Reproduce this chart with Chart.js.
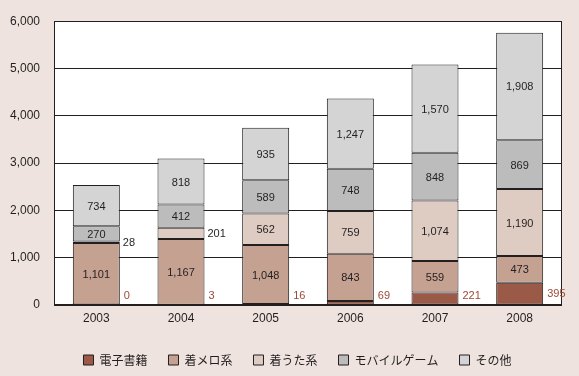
<!DOCTYPE html>
<html>
<head>
<meta charset="utf-8">
<script src="https://cdn.jsdelivr.net/npm/chart.js@4/dist/chart.umd.min.js"></script>
<style>
  html, body { margin: 0; padding: 0; background: #EEE3DE; }
  #wrap { width: 579px; height: 376px; position: relative; }
</style>
</head>
<body>
<div id="wrap"><canvas id="chart"></canvas></div>
<script>
var years = ["2003", "2004", "2005", "2006", "2007", "2008"];
var ebook = [0, 3, 16, 69, 221, 395];
var chakuMelo = [1101, 1167, 1048, 843, 559, 473];
var chakuUta = [28, 201, 562, 759, 1074, 1190];
var mobileGame = [270, 412, 589, 748, 848, 869];
var other = [734, 818, 935, 1247, 1570, 1908];
var yTickLabels = ["0", "1,000", "2,000", "3,000", "4,000", "5,000", "6,000"];

var ink = "#231F20";

function fmt(v) {
  return v.toLocaleString("en-US");
}

// white plot area + frame
var plotFrame = {
  id: "plotFrame",
  beforeDraw: function (chart) {
    var a = chart.chartArea, ctx = chart.ctx;
    ctx.save();
    ctx.fillStyle = "#ffffff";
    ctx.fillRect(a.left, a.top, a.right - a.left, a.bottom - a.top);
    ctx.restore();
  },
  afterDatasetsDraw: function (chart) {
    var a = chart.chartArea, ctx = chart.ctx;
    ctx.save();
    ctx.strokeStyle = ink;
    ctx.lineWidth = 1;
    ctx.strokeRect(Math.round(a.left) + 0.5, Math.round(a.top) + 0.5,
      Math.round(a.right - a.left) - 1, Math.round(a.bottom - a.top) - 1);
    ctx.restore();
  }
};

// nudge the legend row a little right, like the original
var legendShift = {
  id: "legendShift",
  afterLayout: function (chart) {
    if (chart.legend) chart.legend.left += 16;
  }
};

// value labels
var valueLabels = {
  id: "valueLabels",
  afterDatasetsDraw: function (chart) {
    var ctx = chart.ctx;
    ctx.save();
    ctx.font = "11px 'Liberation Sans', Arial, sans-serif";
    ctx.textBaseline = "middle";
    chart.data.datasets.forEach(function (ds, di) {
      var meta = chart.getDatasetMeta(di);
      meta.data.forEach(function (bar, i) {
        var v = ds.data[i];
        var top = Math.min(bar.y, bar.base), bottom = Math.max(bar.y, bar.base);
        var mid = (top + bottom) / 2;
        var h = bottom - top;
        if (di === 0) {
          ctx.fillStyle = "#9B4A36";
          ctx.textAlign = "left";
          ctx.fillText(fmt(v), bar.x + bar.width / 2 + 4, Math.min(mid, bottom - 9));
        } else if (h < 14) {
          ctx.fillStyle = ink;
          ctx.textAlign = "left";
          ctx.fillText(fmt(v), bar.x + bar.width / 2 + 3, mid + 1);
        } else {
          ctx.fillStyle = ink;
          ctx.textAlign = "center";
          ctx.fillText(fmt(v), bar.x, mid + 1);
        }
      });
    });
    ctx.restore();
  }
};

function series(label, data, color) {
  return {
    label: label,
    data: data,
    backgroundColor: color,
    borderColor: ink,
    borderWidth: 1,
    borderSkipped: false,
    barPercentage: 0.555,
    categoryPercentage: 1.0
  };
}

document.addEventListener("DOMContentLoaded", function () {
  var ctx = document.getElementById("chart").getContext("2d");
  new Chart(ctx, {
    type: "bar",
    data: {
      labels: years,
      datasets: [
        series("電子書籍", ebook, "#9B5A48"),
        series("着メロ系", chakuMelo, "#C5A191"),
        series("着うた系", chakuUta, "#DECCC2"),
        series("モバイルゲーム", mobileGame, "#BCBCBC"),
        series("その他", other, "#D4D4D5")
      ]
    },
    options: {
      responsive: true,
      maintainAspectRatio: false,
      animation: false,
      layout: { padding: { left: 0, right: 0, top: 10, bottom: 0 } },
      plugins: {
        tooltip: { enabled: false },
        legend: {
          position: "bottom",
          labels: {
            boxWidth: 10,
            boxHeight: 10,
            padding: 21,
            color: ink,
            font: { family: "'Noto Sans CJK JP', sans-serif", size: 12 }
          }
        }
      },
      scales: {
        x: {
          stacked: true,
          grid: { display: false, drawTicks: false },
          border: { display: false },
          ticks: {
            color: ink,
            padding: 6,
            font: { family: "'Liberation Sans', Arial, sans-serif", size: 12 }
          },
          afterFit: function (s) { s.height = 28; }
        },
        y: {
          stacked: true,
          min: 0,
          // the printed axis runs 1,000 per gridline, but the bars are
          // drawn at 840 per gridline in the source figure
          max: 5040,
          grid: { color: ink, lineWidth: 1, drawTicks: false },
          border: { display: false },
          ticks: {
            stepSize: 840,
            color: ink,
            padding: 14,
            font: { family: "'Liberation Sans', Arial, sans-serif", size: 12 },
            callback: function (v, i) { return yTickLabels[i]; }
          },
          afterFit: function (s) { s.width = 54; }
        },
        yRight: {
          position: "right",
          display: true,
          grid: { display: false, drawTicks: false },
          border: { display: false },
          ticks: { display: false },
          afterFit: function (s) { s.width = 17; }
        }
      }
    },
    plugins: [plotFrame, valueLabels, legendShift]
  });
});
</script>
</body>
</html>
